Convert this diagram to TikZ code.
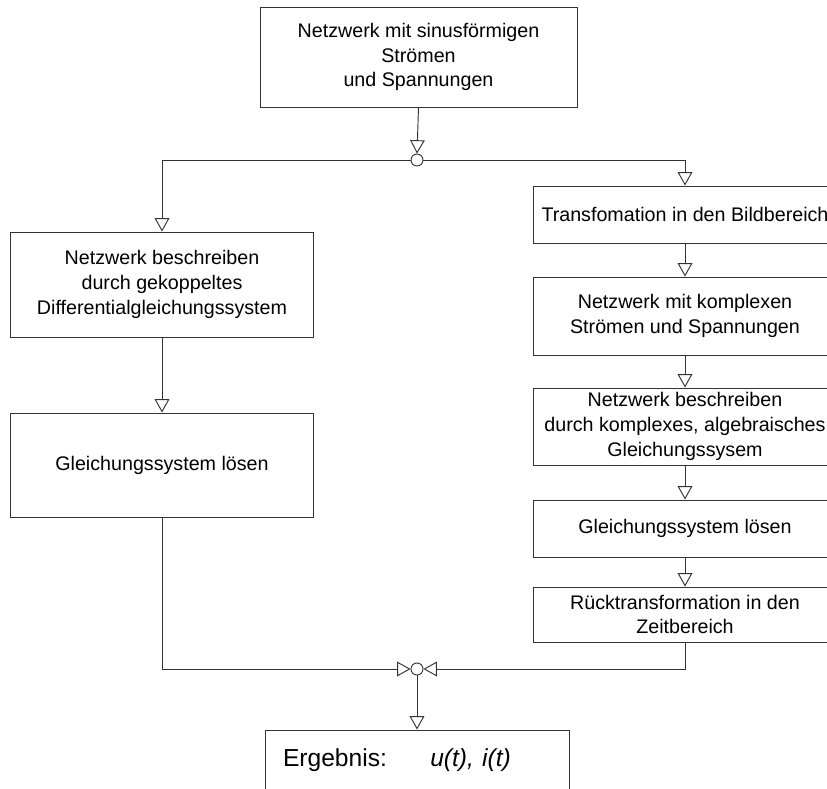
\documentclass[tikz,border=0pt]{standalone}
\usepackage{fontspec}
\setmainfont{Liberation Sans}
\usetikzlibrary{positioning, arrows.meta}

\begin{document}
\begin{tikzpicture}[
    box/.style={rectangle, draw=black!80, line width=0.8pt, fill=white, align=center, inner sep=2pt, font=\fontsize{16.8}{21}\selectfont},
    knot/.style={circle, draw=black!80, line width=0.8pt, fill=white, minimum size=0.36cm, inner sep=0pt},
    arr/.style={-{Triangle[open, length=0.4cm, width=0.44cm]}, line width=0.8pt, draw=black!80},
    line/.style={line width=0.8pt, draw=black!80}
]
    \useasboundingbox (0, 0) rectangle (24.81, -23.67);

    \node[box, minimum width=9.51cm, minimum height=3.0cm] (netz) at (12.555, -1.71) {Netzwerk mit sinusförmigen\\Strömen\\und Spannungen};
    \node[knot] (split) at (12.51, -4.8) {};

    \node[box, minimum width=9.09cm, minimum height=3.15cm] (dgl) at (4.86, -8.535) {Netzwerk beschreiben\\durch gekoppeltes\\Differentialgleichungssystem};
    \node[box, minimum width=9.09cm, minimum height=3.12cm] (loesen) at (4.86, -13.95) {Gleichungssystem lösen};

    \node[box, minimum width=9.12cm, minimum height=1.71cm] (trafo) at (20.55, -6.435) {Transfomation in den Bildbereich};
    \node[box, minimum width=9.12cm, minimum height=2.34cm] (komplex) at (20.55, -9.48) {Netzwerk mit komplexen\\Strömen und Spannungen};
    \node[box, minimum width=9.12cm, minimum height=2.31cm] (algebra) at (20.55, -12.795) {Netzwerk beschreiben\\durch komplexes, algebraisches\\Gleichungssysem};
    \node[box, minimum width=9.12cm, minimum height=1.71cm] (bloesen) at (20.55, -15.855) {Gleichungssystem lösen};
    \node[box, minimum width=9.12cm, minimum height=1.65cm] (rueck) at (20.55, -18.435) {Rücktransformation in den\\Zeitbereich};

    \node[knot] (join) at (12.51, -20.07) {};
    \node[box, minimum width=9.12cm, minimum height=1.8cm, text width=8.04cm, inner xsep=0.54cm, align=left, font=\fontsize{21}{25}\selectfont] (erg) at (12.51, -22.8) {Ergebnis:\hspace{1.3cm}\textit{u(t), i(t)}};

    \draw[arr] (netz.south) -- (split.north);
    \draw[arr] (split.west) -| (dgl.north);
    \draw[arr] (split.east) -| (trafo.north);

    \draw[arr] (dgl.south) -- (loesen.north);
    \draw[arr] (loesen.south) |- (join.west);

    \draw[arr] (trafo.south) -- (komplex.north);
    \draw[arr] (komplex.south) -- (algebra.north);
    \draw[arr] (algebra.south) -- (bloesen.north);
    \draw[arr] (bloesen.south) -- (rueck.north);
    \draw[arr] (rueck.south) |- (join.east);

    \draw[arr] (join.south) -- (erg.north);
\end{tikzpicture}
\end{document}
